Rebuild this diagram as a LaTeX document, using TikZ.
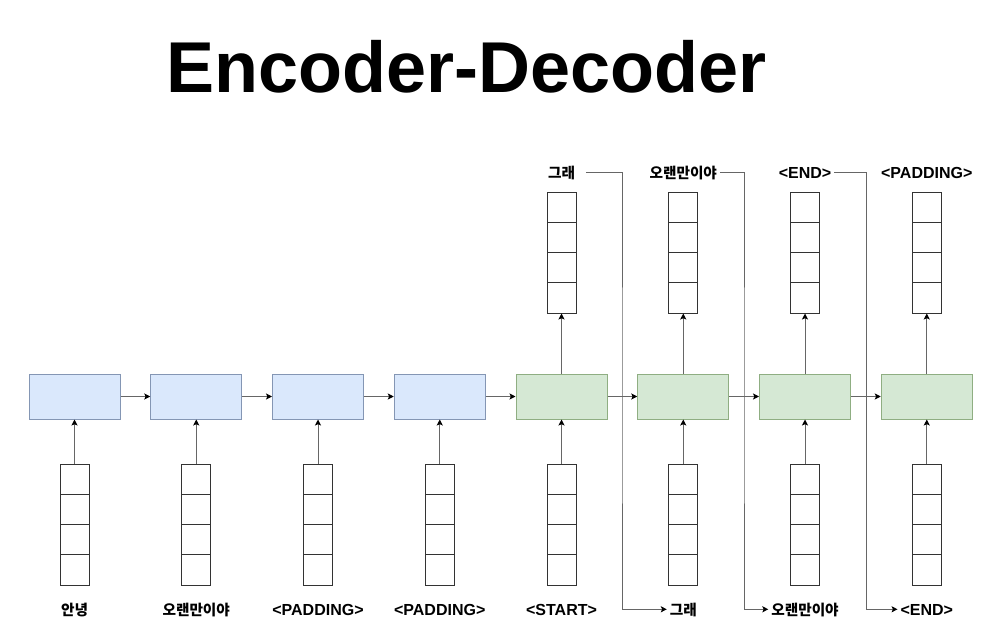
\documentclass[tikz,border=0pt]{standalone}
\usepackage{fontspec}
\setmainfont{Liberation Sans}
\newfontfamily\krfont{Noto Sans CJK KR}
\usetikzlibrary{arrows.meta}

\definecolor{encfill}{HTML}{DAE8FC}
\definecolor{encline}{HTML}{8496B4}
\definecolor{decfill}{HTML}{D5E8D4}
\definecolor{decline}{HTML}{8FAE82}

\tikzset{
  cell/.style={draw, line width=0.75pt, minimum width=68.25pt, minimum height=33.75pt, inner sep=0pt},
  enccell/.style={cell, fill=encfill, draw=encline},
  deccell/.style={cell, fill=decfill, draw=decline},
  vec/.style={draw=black!80, line width=0.75pt, minimum width=21.75pt, minimum height=90.75pt, inner sep=0pt,
    path picture={
      \foreach \k in {1,2,3}
        \draw[black!80, line width=0.75pt]
          ([yshift=\k*22.6875pt]path picture bounding box.south west) --
          ([yshift=\k*22.6875pt]path picture bounding box.south east);
    }},
  word/.style={font=\bfseries\fontsize{12}{14}\selectfont, inner sep=2pt, text height=8.6pt, text depth=0pt},
  kword/.style={word, font=\krfont\bfseries\fontsize{11}{13}\selectfont},
  link/.style={draw=black!60, line width=0.75pt, -{Stealth[black, length=4.5pt, width=4.5pt, inset=1pt]}},
}

\begin{document}
\begin{tikzpicture}[x=0.75pt, y=-0.75pt]
    \useasboundingbox (0,0) rectangle (1003,639);

    % Title
    \node[font=\bfseries\fontsize{54}{60}\selectfont, anchor=base] (title) at (466.5, 92) {Encoder-Decoder};

    % Encoder cells
    \node[enccell] (enc1) at (74.5, 396.5) {};
    \node[enccell] (enc2) at (196.25, 396.5) {};
    \node[enccell] (enc3) at (318, 396.5) {};
    \node[enccell] (enc4) at (439.75, 396.5) {};

    % Decoder cells
    \node[deccell] (dec1) at (561.5, 396.5) {};
    \node[deccell] (dec2) at (683.25, 396.5) {};
    \node[deccell] (dec3) at (805, 396.5) {};
    \node[deccell] (dec4) at (926.75, 396.5) {};

    % Input vectors
    \node[vec] (in1) at (74.5, 524.5) {};
    \node[vec] (in2) at (196.25, 524.5) {};
    \node[vec] (in3) at (318, 524.5) {};
    \node[vec] (in4) at (439.75, 524.5) {};
    \node[vec] (in5) at (561.5, 524.5) {};
    \node[vec] (in6) at (683.25, 524.5) {};
    \node[vec] (in7) at (805, 524.5) {};
    \node[vec] (in8) at (926.75, 524.5) {};

    % Output vectors
    \node[vec] (out1) at (561.5, 252.5) {};
    \node[vec] (out2) at (683.25, 252.5) {};
    \node[vec] (out3) at (805, 252.5) {};
    \node[vec] (out4) at (926.75, 252.5) {};

    % Input words
    \node[kword] (w1) at (74.5, 609.3) {안녕};
    \node[kword] (w2) at (196.25, 609.3) {오랜만이야};
    \node[word] (w3) at (318, 609.3) {<PADDING>};
    \node[word] (w4) at (439.75, 609.3) {<PADDING>};
    \node[word] (w5) at (561.5, 609.3) {<START>};
    \node[kword] (w6) at (683.25, 609.3) {그래};
    \node[kword] (w7) at (805, 609.3) {오랜만이야};
    \node[word] (w8) at (926.75, 609.3) {<END>};

    % Output words
    \node[kword] (y1) at (561.5, 172.5) {그래};
    \node[kword] (y2) at (683.25, 172.5) {오랜만이야};
    \node[word] (y3) at (805, 172.5) {<END>};
    \node[word] (y4) at (926.75, 172.5) {<PADDING>};

    % Recurrent links
    \draw[link] (enc1) -- (enc2);
    \draw[link] (enc2) -- (enc3);
    \draw[link] (enc3) -- (enc4);
    \draw[link] (enc4) -- (dec1);
    \draw[link] (dec1) -- (dec2);
    \draw[link] (dec2) -- (dec3);
    \draw[link] (dec3) -- (dec4);

    % Inputs into cells
    \draw[link] (in1) -- (enc1);
    \draw[link] (in2) -- (enc2);
    \draw[link] (in3) -- (enc3);
    \draw[link] (in4) -- (enc4);
    \draw[link] (in5) -- (dec1);
    \draw[link] (in6) -- (dec2);
    \draw[link] (in7) -- (dec3);
    \draw[link] (in8) -- (dec4);

    % Cells into outputs
    \draw[link] (dec1) -- (out1);
    \draw[link] (dec2) -- (out2);
    \draw[link] (dec3) -- (out3);
    \draw[link] (dec4) -- (out4);

    % Feed previous output back in
    \coordinate (j1) at (622, 400);
    \coordinate (j2) at (744, 400);
    \coordinate (j3) at (866, 400);
    \draw[link, shorten <=6pt] (y1.east) -| (j1) |- (w6.west);
    \draw[link] (y2.east) -| (j2) |- (w7.west);
    \draw[link] (y3.east) -| (j3) |- (w8.west);
\end{tikzpicture}
\end{document}
